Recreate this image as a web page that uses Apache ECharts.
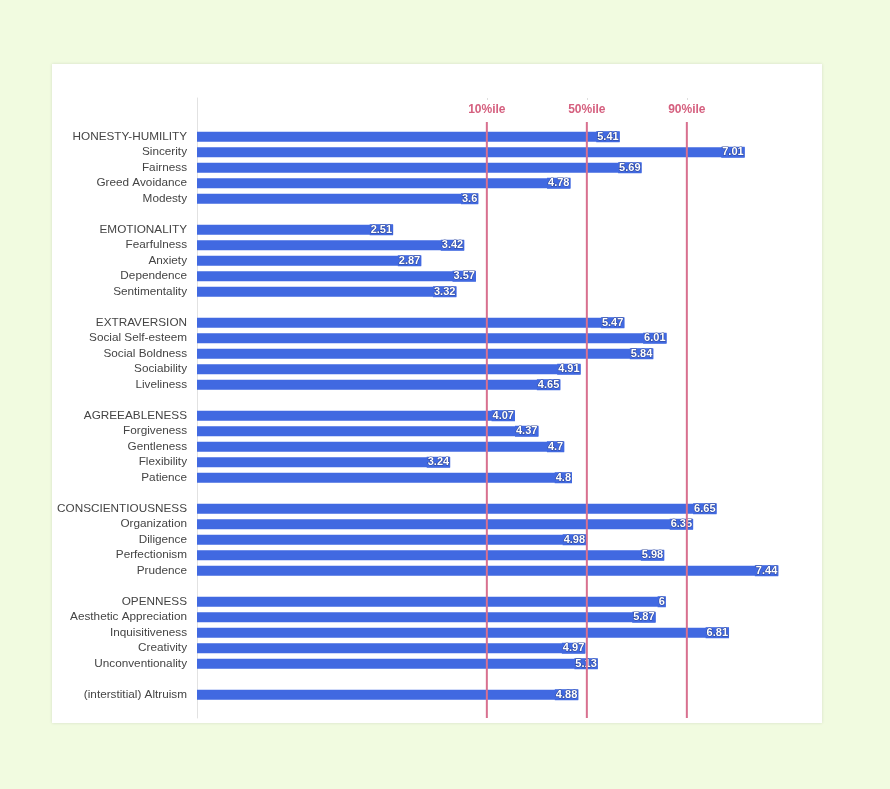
<!DOCTYPE html>
<html><head><meta charset="utf-8">
<script src="https://cdn.jsdelivr.net/npm/echarts@6/dist/echarts.min.js"></script>
<style>html,body{margin:0;padding:0;background:#f1fbe0;}#c{width:890px;height:789px;}</style>
</head><body><div id="c"></div>
<script>
// ---- data ----
const honestyNames = ['HONESTY-HUMILITY','Sincerity','Fairness','Greed Avoidance','Modesty'];
const honestyValues = [5.41, 7.01, 5.69, 4.78, 3.6];
const emotionNames = ['EMOTIONALITY','Fearfulness','Anxiety','Dependence','Sentimentality'];
const emotionValues = [2.51, 3.42, 2.87, 3.57, 3.32];
const extraNames = ['EXTRAVERSION','Social Self-esteem','Social Boldness','Sociability','Liveliness'];
const extraValues = [5.47, 6.01, 5.84, 4.91, 4.65];
const agreeNames = ['AGREEABLENESS','Forgiveness','Gentleness','Flexibility','Patience'];
const agreeValues = [4.07, 4.37, 4.7, 3.24, 4.8];
const conscNames = ['CONSCIENTIOUSNESS','Organization','Diligence','Perfectionism','Prudence'];
const conscValues = [6.65, 6.35, 4.98, 5.98, 7.44];
const openNames = ['OPENNESS','Aesthetic Appreciation','Inquisitiveness','Creativity','Unconventionality'];
const openValues = [6, 5.87, 6.81, 4.97, 5.13];
const altruismNames = ['(interstitial) Altruism'];
const altruismValues = [4.88];
const percentileNames = ['10%ile','50%ile','90%ile'];
const percentileValues = [3.71, 4.99, 6.27];

// ---- build rows (blank rows separate the groups) ----
const groups = [
  [honestyNames, honestyValues], [emotionNames, emotionValues], [extraNames, extraValues],
  [agreeNames, agreeValues], [conscNames, conscValues], [openNames, openValues],
  [altruismNames, altruismValues]
];
const categories = [];
const values = [];
let blankId = 0;
function blank(){ blankId++; categories.push(' '.repeat(blankId)); values.push(null); }
blank(); blank();
groups.forEach((g, gi) => {
  if (gi > 0) blank();
  g[0].forEach((n, i) => { categories.push(n); values.push(g[1][i]); });
});
blank();
const ROWS = categories.length;
const LINE_TOP = 1.55; // where the percentile lines begin (row units)

const BAR = '#4169e1';
const PINK = '#d8708f';
const FONT = 'Liberation Sans, Arial, Helvetica, sans-serif';

const lineSeries = percentileValues.map((p, i) => ({
  type: 'line', xAxisIndex: 0, yAxisIndex: 1, symbol: 'none', silent: true,
  data: [[p, LINE_TOP], [p, ROWS]],
  lineStyle: { color: PINK, width: 2 }, z: 5
}));

const chart = echarts.init(document.getElementById('c'));
chart.setOption({
  backgroundColor: '#f1fbe0',
  animation: false,
  graphic: [{
    type: 'rect', shape: { x: 52, y: 64, width: 770, height: 659 }, z: -10,
    style: { fill: '#ffffff', shadowBlur: 3, shadowColor: 'rgba(0,0,0,0.12)' }
  }],
  grid: { left: 197, right: 68, top: 98, bottom: 71 },
  xAxis: [
    { type: 'value', min: 0, max: 8, position: 'bottom', show: true,
      axisLine: { show: false }, axisTick: { show: false }, axisLabel: { show: false },
      splitLine: { show: false } },
    { type: 'value', min: 0, max: 8, position: 'top',
      axisLine: { show: false },
      axisTick: { show: true, inside: true, length: 2, customValues: percentileValues,
        lineStyle: { color: '#dddddd' } },
      axisLabel: { show: true, inside: true, margin: 6, customValues: percentileValues,
        color: '#d5607f', fontWeight: 'bold', fontSize: 12, fontFamily: FONT,
        formatter: v => { const i = percentileValues.indexOf(v); return i >= 0 ? percentileNames[i] : ''; } },
      splitLine: { show: false } }
  ],
  yAxis: [
    { type: 'category', data: categories, inverse: true,
      axisLine: { show: true, lineStyle: { color: '#e2e2e2', width: 1 } },
      axisTick: { show: false },
      axisLabel: { color: '#444', fontSize: 11.75, margin: 10, fontFamily: FONT, interval: 0 } },
    { type: 'value', min: 0, max: ROWS, inverse: true, show: false }
  ],
  series: [{
    type: 'bar', data: values, barWidth: 10, xAxisIndex: 0, yAxisIndex: 0,
    itemStyle: { color: BAR },
    label: {
      show: true, position: 'insideRight', distance: 0,
      color: '#fff', fontWeight: 'bold', fontSize: 11,
      fontFamily: FONT,
      textBorderColor: 'rgba(30,40,90,0.6)', textBorderWidth: 1,
      backgroundColor: BAR, padding: [0, 1, 0, 1],
      formatter: p => p.value == null ? '' : String(p.value)
    },
    z: 3
  }].concat(lineSeries)
});
</script></body></html>
